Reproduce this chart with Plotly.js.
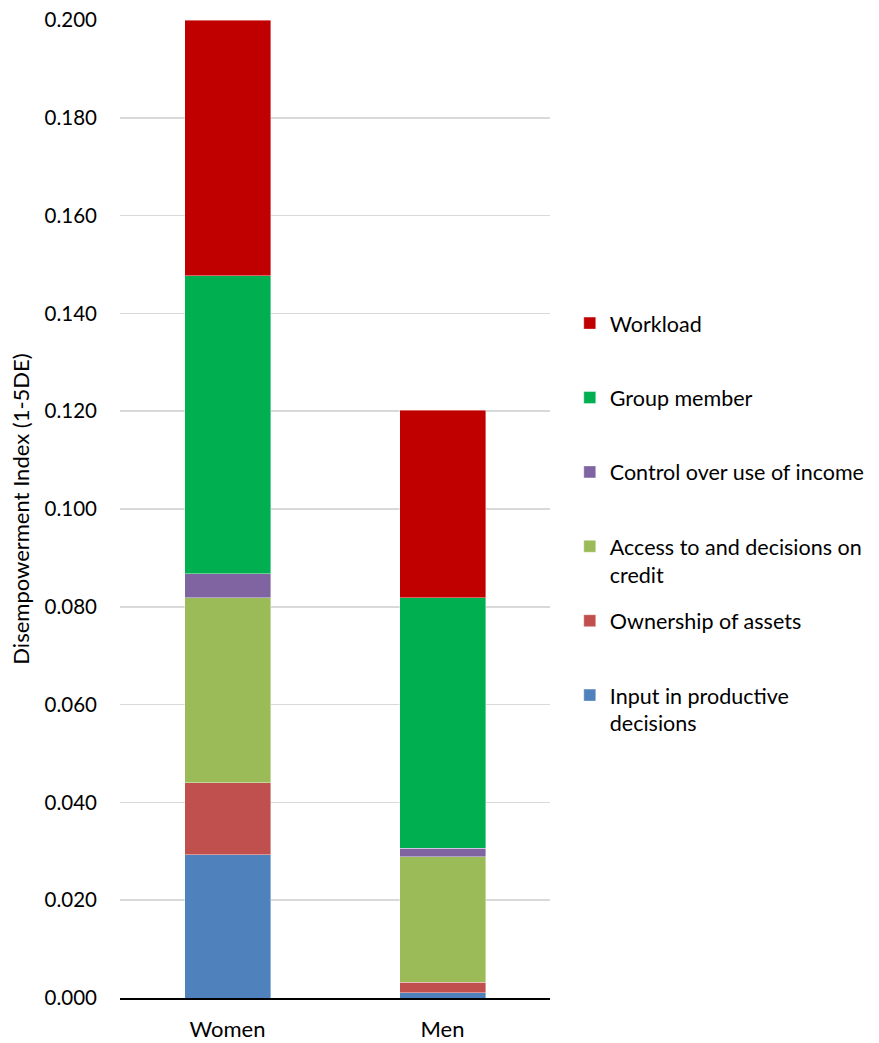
<!DOCTYPE html>
<html>
<head>
<meta charset="utf-8">
<script src="https://cdn.plot.ly/plotly-3.0.1.min.js"></script>
<style>html,body{margin:0;padding:0;background:#fff;}#chart{width:879px;height:1043px;}</style>
</head>
<body>
<div id="chart"></div>
<script>
const categories = ["Women", "Men"];
const seriesNames = ["Input in productive<br>decisions", "Ownership of assets<br>&nbsp;", "Access to and decisions on<br>credit", "Control over use of income<br>&nbsp;", "Group member<br>&nbsp;", "Workload<br>&nbsp;"];
const inputProductive = [0.0293, 0.0011];
const ownershipAssets = [0.0147, 0.0021];
const accessCredit = [0.0379, 0.0257];
const controlIncome = [0.0049, 0.0017];
const groupMember = [0.0609, 0.0513];
const workload = [0.0523, 0.0383];
const tickValues = [0, 0.02, 0.04, 0.06, 0.08, 0.10, 0.12, 0.14, 0.16, 0.18, 0.20];

const colors = ["#4F81BD", "#C0504D", "#9BBB59", "#8064A2", "#00B050", "#C00000"];
const values = [inputProductive, ownershipAssets, accessCredit, controlIncome, groupMember, workload];

const traces = values.map((v, i) => ({
  type: "bar",
  x: categories,
  y: v,
  name: seriesNames[i],
  legendgroup: "g" + i,
  legendrank: (values.length - i) * 100,
  marker: {color: colors[i], line: {color: "rgba(255,255,255,0.5)", width: 0.8}},
  hoverinfo: "skip"
}));

const font = "Lato, 'Open Sans', sans-serif";
const layout = {
  width: 879,
  height: 1043,
  margin: {l: 120, r: 329, t: 20, b: 45, autoexpand: false},
  barmode: "stack",
  bargap: 0.6,
  paper_bgcolor: "#fff",
  plot_bgcolor: "#fff",
  font: {family: font, size: 21, color: "#000"},
  xaxis: {
    showgrid: false,
    showline: true,
    linecolor: "#000",
    linewidth: 2,
    ticks: "",
    tickfont: {size: 22},
    ticklabelstandoff: 11,
    fixedrange: true
  },
  yaxis: {
    range: [0, 0.2],
    tickvals: tickValues,
    tickformat: ".3f",
    showgrid: true,
    gridcolor: "#d9d9d9",
    gridwidth: 1.5,
    zeroline: false,
    showline: false,
    ticks: "",
    ticklen: 0,
    tickfont: {size: 20.5},
    ticklabelstandoff: 22,
    title: {text: "Disempowerment Index (1-5DE)", font: {size: 22}, standoff: 8},
    automargin: false
  },
  legend: {
    x: 1.046,
    xanchor: "left",
    y: 0.711,
    yanchor: "top",
    traceorder: "grouped",
    tracegroupgap: 15.5,
    valign: "top",
    itemwidth: 30,
    font: {size: 21.5, family: font},
    bgcolor: "rgba(0,0,0,0)"
  },
  showlegend: true
};

Plotly.newPlot("chart", traces, layout, {staticPlot: true, displayModeBar: false});
</script>
</body>
</html>
